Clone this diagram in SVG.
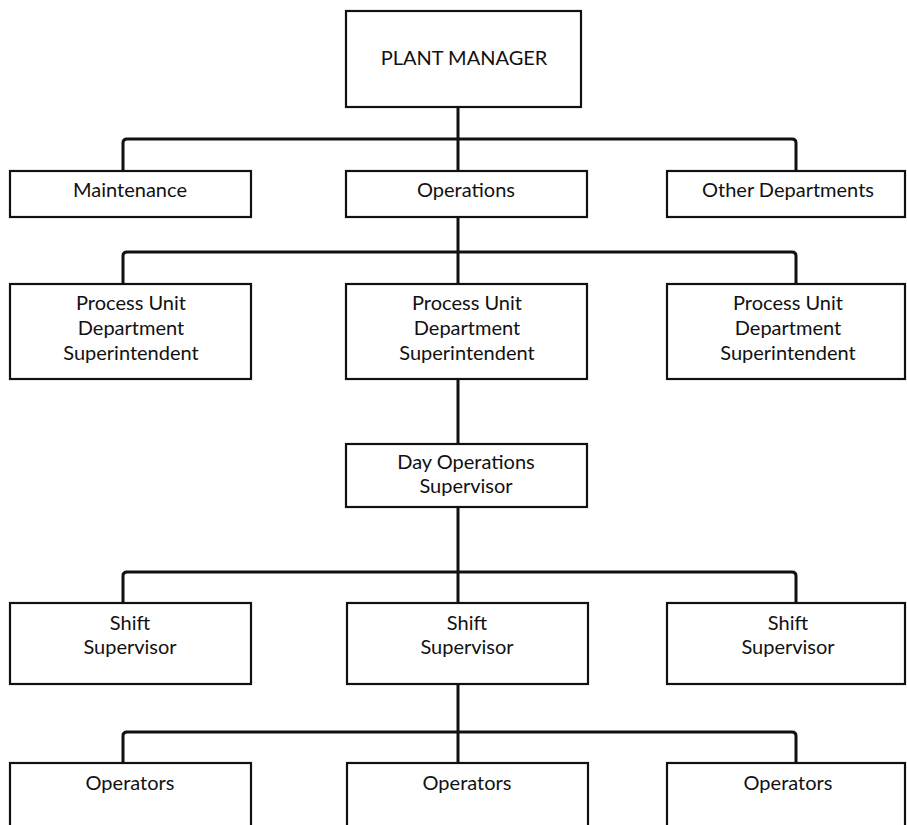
<svg xmlns="http://www.w3.org/2000/svg" width="907" height="825" viewBox="0 0 907 825">
  <style>
    .box { fill: #ffffff; stroke: #111111; stroke-width: 2.2; }
    .wire { fill: none; stroke: #111111; stroke-width: 3; stroke-linejoin: round; stroke-linecap: butt; }
    .lbl { font-family: Lato, "Liberation Sans", sans-serif; font-size: 20px; fill: #111111; text-anchor: middle; }
  </style>
  <rect width="907" height="825" fill="#ffffff"/>

  <!-- reporting lines -->
  <g id="connectors">
    <path class="wire" d="M458,107 V171"/>
    <path class="wire" d="M123,171 V143 Q123,139 127,139 H792 Q796,139 796,143 V171"/>
    <path class="wire" d="M458,217 V284"/>
    <path class="wire" d="M123,284 V256 Q123,252 127,252 H792 Q796,252 796,256 V284"/>
    <path class="wire" d="M458,379 V444"/>
    <path class="wire" d="M458,507 V603"/>
    <path class="wire" d="M123,603 V576 Q123,572 127,572 H792 Q796,572 796,576 V603"/>
    <path class="wire" d="M458,684 V763"/>
    <path class="wire" d="M123,763 V736 Q123,732 127,732 H792 Q796,732 796,736 V763"/>
  </g>

  <g id="plant-manager">
    <rect class="box" x="346" y="11" width="235" height="96"/>
    <text class="lbl" x="464" y="65">PLANT MANAGER</text>
  </g>

  <g id="maintenance">
    <rect class="box" x="10" y="171" width="241" height="46"/>
    <text class="lbl" x="130" y="197">Maintenance</text>
  </g>
  <g id="operations">
    <rect class="box" x="346" y="171" width="241" height="46"/>
    <text class="lbl" x="466" y="197">Operations</text>
  </g>
  <g id="other-departments">
    <rect class="box" x="667" y="171" width="238" height="46"/>
    <text class="lbl" x="788" y="197">Other Departments</text>
  </g>

  <g id="superintendent-1">
    <rect class="box" x="10" y="284" width="241" height="95"/>
    <text class="lbl" x="131" y="310">Process Unit</text>
    <text class="lbl" x="131" y="335">Department</text>
    <text class="lbl" x="131" y="360">Superintendent</text>
  </g>
  <g id="superintendent-2">
    <rect class="box" x="346" y="284" width="241" height="95"/>
    <text class="lbl" x="467" y="310">Process Unit</text>
    <text class="lbl" x="467" y="335">Department</text>
    <text class="lbl" x="467" y="360">Superintendent</text>
  </g>
  <g id="superintendent-3">
    <rect class="box" x="667" y="284" width="238" height="95"/>
    <text class="lbl" x="788" y="310">Process Unit</text>
    <text class="lbl" x="788" y="335">Department</text>
    <text class="lbl" x="788" y="360">Superintendent</text>
  </g>

  <g id="day-operations-supervisor">
    <rect class="box" x="346" y="444" width="241" height="63"/>
    <text class="lbl" x="466" y="469">Day Operations</text>
    <text class="lbl" x="466" y="493">Supervisor</text>
  </g>

  <g id="shift-supervisor-1">
    <rect class="box" x="10" y="603" width="241" height="81"/>
    <text class="lbl" x="130" y="630">Shift</text>
    <text class="lbl" x="130" y="654">Supervisor</text>
  </g>
  <g id="shift-supervisor-2">
    <rect class="box" x="347" y="603" width="241" height="81"/>
    <text class="lbl" x="467" y="630">Shift</text>
    <text class="lbl" x="467" y="654">Supervisor</text>
  </g>
  <g id="shift-supervisor-3">
    <rect class="box" x="667" y="603" width="238" height="81"/>
    <text class="lbl" x="788" y="630">Shift</text>
    <text class="lbl" x="788" y="654">Supervisor</text>
  </g>

  <g id="operators-1">
    <rect class="box" x="10" y="763" width="241" height="80"/>
    <text class="lbl" x="130" y="790">Operators</text>
  </g>
  <g id="operators-2">
    <rect class="box" x="347" y="763" width="241" height="80"/>
    <text class="lbl" x="467" y="790">Operators</text>
  </g>
  <g id="operators-3">
    <rect class="box" x="667" y="763" width="238" height="80"/>
    <text class="lbl" x="788" y="790">Operators</text>
  </g>
</svg>
